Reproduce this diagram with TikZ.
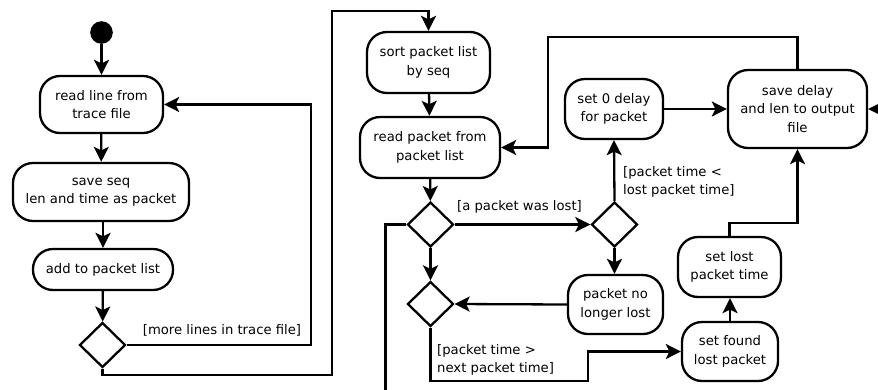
\documentclass[tikz,border=0pt]{standalone}
\usepackage{fontspec}
\setmainfont{DejaVu Sans}
\usetikzlibrary{arrows.meta,shapes.geometric}

\tikzset{
  flow/.style={line width=2.3pt, line join=miter},
  arr/.style={flow, -{Stealth[length=15pt,width=15pt,inset=3.5pt]}},
  act/.style={draw, line width=2.3pt, rounded corners=20pt, inner sep=0pt,
    align=center, font=\fontsize{13.2}{18.3}\selectfont},
  dec/.style={draw, diamond, line width=2.3pt, inner sep=0pt,
    minimum width=46pt, minimum height=45pt},
  guard/.style={inner sep=0pt, font=\fontsize{13.2}{18.3}\selectfont},
}

\begin{document}
\begin{tikzpicture}[x=1pt, y=-1pt]
  \clip (0,0) rectangle (878,389);

  % initial node
  \node[circle, fill, inner sep=0pt, minimum size=22.6pt] (start) at (101.5,32.5) {};

  % reading the trace file
  \node[act, minimum width=123pt, minimum height=57pt] (readline) at (101.5,104.5)
    {read line from\\trace file};
  \node[act, minimum width=176pt, minimum height=58pt] (saveseq) at (101,192)
    {save seq\\len and time as packet};
  \node[act, minimum width=140pt, minimum height=41pt] (addlist) at (103,269.5)
    {add to packet list};
  \node[dec] (moreq) at (102.5,345) {};

  % processing the packet list
  \node[act, minimum width=123pt, minimum height=61pt] (sortlist) at (428.5,62.5)
    {sort packet list\\by seq};
  \node[act, minimum width=140pt, minimum height=61pt] (readpkt) at (430,147.5)
    {read packet from\\packet list};
  \node[dec] (lostq) at (430.5,224.5) {};
  \node[dec] (nextq) at (430.5,304) {};
  \node[dec] (timeq) at (614.5,224.5) {};

  \node[act, minimum width=98pt, minimum height=60pt] (zerodelay) at (614,109)
    {set 0 delay\\for packet};
  \node[act, minimum width=95pt, minimum height=59pt] (nolost) at (615.5,304.5)
    {packet no\\longer lost};
  \node[act, minimum width=139pt, minimum height=78pt] (savedelay) at (797.5,109)
    {save delay\\and len to output\\file};
  \node[act, minimum width=103pt, minimum height=60pt] (setlost) at (729.5,267)
    {set lost\\packet time};
  \node[act, minimum width=96pt, minimum height=59pt] (setfound) at (730,351.5)
    {set found\\lost packet};

  % free ends leaving the drawing area
  \coordinate (outbottom) at (385.5,400);
  \coordinate (outright) at (900,109);

  % guards
  \node[guard] (gmore) at (222,330) {[more lines in trace file]};
  \node[guard] (glost) at (519.5,207) {[a packet was lost]};
  \node[guard, anchor=west, align=left] (gless) at (623,182)
    {[packet time <\\lost packet time]};
  \node[guard, anchor=west, align=left] (gmore2) at (437,360)
    {[packet time >\\next packet time]};

  % connectors
  \draw[arr] (start) -- (readline);
  \draw[arr] (readline) -- (saveseq);
  \draw[arr] (saveseq.south -| addlist) -- (addlist);
  \draw[arr] (addlist) -- (moreq);
  \draw[arr] (moreq.east) -- (311,345) -- (311,104.5) -- (readline.east);
  \draw[arr] (moreq.south) -- (102.5,375) -- (332,375) -- (332,11)
    -- (sortlist.north |- 0,11) -- (sortlist.north);
  \draw[arr] (sortlist) -- (readpkt);
  \draw[arr] (readpkt) -- (lostq);
  \draw[arr] (lostq.east) -- (timeq.west);
  \draw[flow] (lostq.west) -- (385.5,224.5) -- (outbottom);
  \draw[arr] (lostq.south) -- (nextq.north);
  \draw[arr] (timeq.north) -- (zerodelay.south);
  \draw[arr] (timeq.south) -- (nolost.north -| timeq.south);
  \draw[arr] (nolost.west) -- (nextq.east);
  \draw[arr] (nextq.south) -- (430.5,381) -- (588,381) -- (588,351.5) -- (setfound.west);
  \draw[arr] (setfound.north) -- (setlost.south -| setfound.north);
  \draw[arr] (setlost.north) -- (729.5,223) -- (797.5,223) -- (savedelay.south);
  \draw[arr] (zerodelay.east) -- (savedelay.west);
  \draw[arr] (savedelay.north) -- (797.5,37) -- (548,37) -- (548,147.5) -- (readpkt.east);
  \draw[arr] (outright) -- (savedelay.east);
\end{tikzpicture}
\end{document}
